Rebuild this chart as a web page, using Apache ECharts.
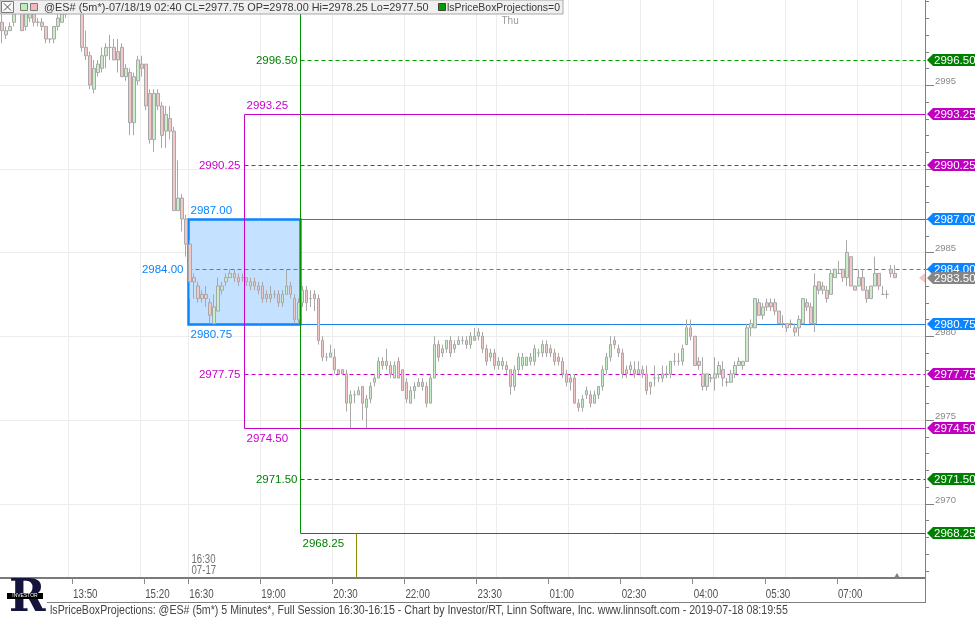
<!DOCTYPE html>
<html><head><meta charset="utf-8">
<script src="https://cdn.jsdelivr.net/npm/echarts/dist/echarts.min.js"></script>
<style>html,body{margin:0;padding:0;background:#fff}#c{width:975px;height:620px}</style>
</head><body><div id="c"></div>
<script>
// ---------- DATA ----------
// session segments: [first bar time, number of 5-minute bars]
const sessionSegments = [['12:20', 47], ['16:30', 6], ['18:00', 178]];
// candles: [open, close, low, high]
const ohlc = [
[2998.75,2998.25,2997.5,2999.25],[2998.0,2998.25,2997.75,2998.5],[2998.25,2998.5,2998.25,2998.75],[2998.75,2999.25,2998.5,2999.5],
[2999.5,2999.75,2999.25,3000.0],[2999.5,2998.25,2998.25,2999.75],[2998.5,2999.25,2998.25,2999.5],[2999.0,2999.25,2998.75,2999.5],
[2999.25,2998.75,2998.5,2999.5],[2998.75,2998.75,2998.5,2999.0],[2998.75,2998.5,2998.25,2999.0],[2998.5,2997.75,2997.5,2998.5],
[2997.75,2997.75,2997.5,2997.75],[2997.75,2998.5,2997.5,2998.5],[2998.5,2999.0,2998.25,2999.25],[2998.75,2999.25,2998.75,2999.5],
[2999.25,2999.5,2999.0,2999.75],[2999.5,3000.0,2999.25,3000.25],[3000.0,2999.75,2999.5,3000.25],[2999.75,2999.5,2999.25,3000.0],
[2999.5,2997.25,2997.0,2999.75],[2997.25,2996.75,2996.5,2998.25],[2996.75,2995.0,2994.75,2997.0],[2994.75,2996.0,2994.5,2996.5],
[2995.75,2996.25,2995.5,2996.5],[2996.0,2996.75,2995.75,2997.25],[2996.75,2997.25,2996.0,2997.5],[2997.25,2997.25,2996.5,2998.0],
[2997.25,2996.5,2996.5,2997.75],[2997.0,2996.5,2995.75,2997.75],[2997.25,2995.5,2995.5,2997.5],[2995.5,2996.0,2995.25,2996.25],
[2995.75,2992.75,2992.0,2996.0],[2992.75,2995.5,2992.0,2995.75],[2995.25,2996.5,2995.0,2996.75],[2996.25,2996.0,2995.5,2996.75],
[2996.25,2993.75,2993.5,2996.25],[2994.5,2991.75,2991.5,2994.75],[2991.75,2994.5,2991.0,2994.75],[2994.5,2993.75,2993.5,2994.75],
[2993.75,2992.0,2991.25,2994.0],[2992.25,2993.25,2991.25,2993.75],[2993.0,2992.25,2991.75,2993.75],[2992.25,2987.5,2987.5,2992.5],
[2987.5,2988.25,2987.5,2990.5],[2988.25,2987.0,2986.25,2988.5],[2987.0,2985.5,2984.75,2987.25],
[2985.5,2983.25,2982.25,2985.75],[2983.5,2983.25,2982.25,2983.75],[2983.0,2982.25,2982.0,2983.25],[2982.5,2982.25,2982.0,2982.75],
[2982.5,2982.25,2981.75,2983.0],[2982.0,2981.25,2980.75,2982.25],
[2980.75,2981.75,2980.75,2982.5],[2981.5,2983.0,2981.5,2983.5],[2982.75,2983.0,2982.5,2983.25],[2983.25,2983.5,2983.0,2983.75],
[2983.5,2983.75,2983.5,2984.0],[2983.75,2983.5,2983.25,2984.0],[2983.5,2983.25,2983.0,2983.75],[2983.5,2983.5,2983.25,2983.75],
[2983.5,2983.25,2983.0,2983.5],[2983.0,2983.25,2982.75,2983.5],[2983.25,2983.0,2982.75,2983.5],[2983.0,2982.75,2982.5,2983.25],
[2983.0,2982.25,2982.0,2983.25],[2982.5,2982.25,2982.0,2982.75],[2982.5,2982.25,2982.0,2983.0],[2982.5,2982.5,2982.25,2982.75],
[2982.5,2982.0,2981.75,2982.75],[2982.0,2982.5,2981.75,2982.75],[2982.5,2983.0,2982.5,2984.0],[2983.0,2982.5,2982.25,2983.25],
[2982.25,2981.0,2980.75,2982.5],[2981.0,2982.0,2980.75,2982.25],[2982.0,2982.75,2981.75,2983.0],[2982.75,2982.0,2981.5,2983.0],
[2982.25,2982.25,2981.75,2982.75],[2982.5,2982.25,2981.5,2982.75],[2982.25,2979.75,2979.5,2982.5],
[2979.75,2978.75,2978.5,2980.0],[2978.75,2978.75,2978.5,2979.0],[2978.75,2979.0,2978.75,2979.5],[2978.75,2978.0,2977.75,2979.25],
[2978.0,2977.75,2977.75,2978.0],[2978.0,2977.75,2977.75,2978.0],[2977.75,2976.0,2975.5,2978.0],[2976.0,2976.5,2974.5,2976.75],
[2976.5,2976.5,2976.0,2976.75],[2976.5,2976.75,2976.5,2977.0],[2977.0,2976.0,2975.0,2977.0],[2975.75,2976.25,2974.5,2976.5],
[2976.25,2977.0,2976.0,2977.25],[2977.25,2977.5,2977.0,2977.75],[2977.5,2978.5,2977.5,2978.75],[2978.5,2978.25,2978.0,2978.75],
[2978.25,2978.5,2978.0,2979.25],[2978.25,2977.75,2977.5,2978.5],[2977.5,2978.25,2977.5,2978.5],[2978.5,2977.5,2977.5,2978.75],
[2978.0,2976.75,2976.75,2978.0],[2977.25,2976.25,2976.0,2977.5],[2976.0,2976.75,2976.0,2977.0],[2976.75,2977.0,2976.25,2977.25],
[2977.0,2977.25,2977.0,2977.5],[2977.25,2977.0,2976.75,2977.5],[2977.0,2976.0,2975.75,2977.25],[2976.0,2977.5,2976.0,2977.75],
[2977.5,2979.5,2977.5,2980.0],[2979.5,2978.75,2978.5,2979.75],[2979.0,2979.25,2978.75,2979.5],[2979.25,2979.75,2979.0,2979.75],
[2979.75,2979.0,2978.75,2980.0],[2979.25,2979.5,2979.0,2979.75],[2979.5,2979.75,2979.5,2980.0],[2979.75,2979.75,2979.5,2980.0],
[2979.75,2979.5,2979.25,2980.0],[2979.5,2980.0,2979.25,2980.25],[2980.0,2979.75,2979.75,2980.5],[2980.0,2980.25,2979.75,2980.5],
[2980.0,2979.25,2979.0,2980.25],[2979.25,2978.5,2978.25,2979.5],[2978.75,2979.0,2978.5,2979.25],[2979.0,2978.25,2978.0,2979.25],
[2978.25,2978.5,2978.0,2978.75],[2978.25,2978.5,2978.0,2978.75],[2978.25,2978.0,2977.75,2978.5],[2978.0,2977.0,2976.5,2978.0],
[2977.0,2978.0,2976.75,2978.25],[2978.0,2978.75,2977.75,2979.0],[2978.25,2978.75,2978.0,2979.0],[2978.25,2978.75,2978.25,2978.75],
[2978.5,2978.75,2978.25,2979.0],[2978.5,2979.25,2978.25,2979.5],[2979.0,2979.0,2978.75,2979.25],[2979.0,2979.5,2978.75,2979.75],
[2979.5,2979.0,2978.75,2979.75],[2979.25,2979.0,2978.75,2979.5],[2979.0,2978.5,2978.25,2979.25],[2978.75,2978.5,2978.25,2979.0],
[2978.5,2977.75,2977.5,2978.75],[2977.75,2977.25,2977.0,2978.0],[2977.5,2977.25,2976.75,2977.75],[2977.5,2976.0,2976.0,2977.75],
[2976.0,2975.75,2975.5,2976.25],[2975.75,2976.25,2975.5,2976.5],[2976.5,2976.75,2976.25,2977.0],[2976.5,2976.0,2975.75,2976.75],
[2976.0,2976.5,2976.0,2976.75],[2976.5,2977.0,2976.25,2977.0],[2977.0,2978.0,2976.75,2978.25],[2978.0,2978.75,2977.75,2979.0],
[2978.75,2979.5,2978.5,2980.0],[2979.75,2979.5,2979.25,2980.0],[2979.25,2979.0,2978.75,2979.5],[2979.0,2977.75,2977.5,2979.25],
[2978.0,2977.75,2977.5,2978.25],[2978.0,2978.25,2977.75,2978.5],[2978.0,2977.75,2977.5,2978.5],[2977.75,2978.0,2977.75,2978.5],
[2978.0,2977.75,2977.5,2978.25],[2977.75,2976.75,2976.5,2978.25],[2977.0,2977.25,2976.5,2977.25],[2977.5,2977.5,2977.0,2978.25],
[2977.5,2977.5,2977.25,2977.75],[2977.5,2977.75,2977.25,2978.25],[2977.75,2977.75,2977.5,2978.25],[2977.75,2978.5,2977.5,2978.5],
[2978.5,2978.5,2978.25,2979.0],[2978.5,2978.5,2978.25,2979.0],[2978.5,2979.25,2978.25,2979.5],[2979.5,2980.5,2979.5,2981.0],
[2980.5,2980.0,2979.75,2981.0],[2980.0,2978.25,2978.25,2980.0],[2978.5,2978.25,2978.0,2978.75],[2977.75,2977.0,2976.75,2978.75],
[2977.0,2977.75,2976.75,2977.75],[2977.5,2977.5,2977.25,2977.75],[2977.5,2977.75,2976.75,2978.75],[2977.75,2978.25,2977.5,2978.5],
[2978.0,2977.5,2977.0,2978.5],[2977.25,2977.25,2977.0,2977.5],[2977.25,2977.75,2977.25,2978.0],[2977.75,2978.25,2977.5,2978.5],
[2978.25,2978.5,2978.25,2978.75],[2978.25,2978.5,2978.0,2978.5],[2978.5,2980.5,2978.5,2980.75],[2980.5,2980.75,2980.0,2981.0],
[2980.5,2982.25,2980.5,2982.25],[2982.0,2981.25,2981.25,2982.25],[2981.25,2981.75,2981.0,2982.0],[2982.0,2981.75,2981.5,2982.25],
[2982.0,2981.75,2981.5,2982.25],[2982.0,2981.5,2981.25,2982.25],[2981.5,2980.75,2980.75,2981.5],[2980.75,2980.75,2980.5,2981.25],
[2980.75,2980.5,2980.25,2980.75],[2980.75,2980.75,2980.5,2981.0],[2980.5,2980.25,2980.0,2980.75],[2980.5,2981.0,2980.0,2981.25],
[2980.75,2982.25,2980.75,2982.25],[2982.0,2981.75,2981.5,2982.25],[2981.75,2980.75,2980.75,2982.0],[2980.75,2983.0,2980.25,2983.75],
[2983.25,2982.75,2982.5,2983.25],[2982.75,2983.0,2982.5,2983.25],[2982.75,2982.25,2982.0,2983.0],[2982.5,2983.75,2982.5,2984.0],
[2983.5,2984.0,2983.5,2984.0],[2983.75,2983.75,2983.75,2984.5],[2984.0,2983.5,2983.25,2984.0],[2983.5,2985.0,2983.0,2985.75],
[2984.75,2983.0,2983.0,2984.75],[2983.0,2982.75,2982.75,2983.0],[2983.0,2983.5,2983.0,2984.0],[2983.5,2982.75,2982.75,2984.0],
[2982.75,2982.25,2982.0,2983.0],[2982.25,2983.0,2982.25,2983.0],[2983.0,2983.75,2983.0,2984.75],[2983.75,2983.0,2982.75,2983.75],
[2982.5,2982.5,2982.5,2983.0],[2982.5,2982.5,2982.25,2982.75],[2984.0,2983.75,2983.5,2984.25],[2983.75,2983.5,2983.5,2984.25]
];
const tickTimes = ['13:50','15:20','16:30','19:00','20:30','22:00','23:30','01:00','02:30','04:00','05:30','07:00'];
const gridTimes = ['13:45','15:15','16:30','19:00','20:30','22:00','23:30','23:55','01:25','02:55','04:25','05:55','07:25','08:20'];
const priceGridLevels = [2970, 2975, 2980, 2985, 2990, 2995];
const priceLabelLevels = [2970, 2975, 2980, 2985, 2990, 2995];
const yMin = 2965.56, yMax = 3000.08;
// projections
const blueBox = {start:'16:30', end:'19:50', top:2987.00, mid:2984.00, bottom:2980.75};
const magentaBox = {start:'18:40', top:2993.25, upper:2990.25, lower:2977.75, bottom:2974.50};
const greenBox = {start:'19:50', upper:2996.50, lower:2971.50, bottom:2968.25};
const oliveMarkTime = '21:00';
const dayStartTime = '23:55';
const sessionStartTime = '16:30';
const lastPrice = 2983.50;
const tagPrices = [2996.50, 2993.25, 2990.25, 2987.00, 2984.00, 2983.50, 2980.75, 2977.75, 2974.50, 2971.50, 2968.25];
const tagColors = ['#008000','#c000c0','#c000c0','#0a84ff','#0a84ff','#858585','#0a84ff','#c000c0','#c000c0','#008000','#008000'];
const headerText = '@ES# (5m*)-07/18/19 02:40 CL=2977.75 OP=2978.00 Hi=2978.25 Lo=2977.50';
const footerText = 'lsPriceBoxProjections: @ES# (5m*) 5 Minutes*, Full Session 16:30-16:15 - Chart by Investor/RT, Linn Software, Inc. www.linnsoft.com - 2019-07-18 08:19:55';

// ---------- categories ----------
const cats = [];
sessionSegments.forEach(([t, n]) => {
  let [h, m] = t.split(':').map(Number);
  for (let k = 0; k < n; k++) {
    cats.push(String(h).padStart(2,'0') + ':' + String(m).padStart(2,'0'));
    m += 5; if (m >= 60) { m -= 60; h = (h + 1) % 24; }
  }
});
const idx = t => cats.indexOf(t);

const FONT = '"Liberation Sans", Arial, sans-serif';
const BLUE = '#0a84ff', MAG = '#c800c8', GRN = '#009000';

function renderGrid(params, api) {
  const cs = params.coordSys;
  const y = Math.round(api.coord([0, api.value(1)])[1]) + 0.5;
  return {type:'line', shape:{x1:cs.x, y1:y, x2:cs.x + cs.width, y2:y}, style:{stroke:'#ececec', lineWidth:1}};
}

function renderInd(params, api) {
  const cs = params.coordSys;
  const R = cs.x + cs.width, T = cs.y, B = cs.y + cs.height;
  const bw = api.size([1, 0])[0];
  const X = t => Math.round(api.coord([idx(t), yMin])[0] - bw / 2) + 0.5;
  const Y = p => Math.round(api.coord([0, p])[1]) + 0.5;
  const ch = [];
  const line = (x1, y1, x2, y2, c, w, dash) => ch.push({type:'line', shape:{x1, y1, x2, y2}, style:{stroke:c, lineWidth:w, lineDash:dash || null}});
  const text = (x, y, s, c, align) => ch.push({type:'text', x, y, style:{text:s, fill:c, fontSize:11.5, fontFamily:FONT, align, verticalAlign:'middle'}});
  const D = [4, 3];
  // blue box
  const bx0 = X(blueBox.start), bx1 = X(blueBox.end);
  ch.push({type:'rect', shape:{x:bx0, y:Y(blueBox.top), width:bx1 - bx0, height:Y(blueBox.bottom) - Y(blueBox.top)},
    style:{fill:'#c4e1ff', stroke:BLUE, lineWidth:2.5}});
  line(bx1, Y(blueBox.top), R, Y(blueBox.top), '#1a7fe0', 1);
  line(bx1, Y(blueBox.bottom), R, Y(blueBox.bottom), '#1a7fe0', 1);
  line(bx0, Y(blueBox.mid), R, Y(blueBox.mid), '#1a8cff', 1, D);
  text(bx0 + 2, Y(blueBox.top) - 9, blueBox.top.toFixed(2), BLUE, 'left');
  text(bx0 + 2, Y(blueBox.bottom) + 10, blueBox.bottom.toFixed(2), BLUE, 'left');
  text(bx0 - 5, Y(blueBox.mid), blueBox.mid.toFixed(2), BLUE, 'right');
  // magenta box
  const mx = X(magentaBox.start);
  line(mx, Y(magentaBox.top), mx, Y(magentaBox.bottom), MAG, 1);
  line(mx, Y(magentaBox.top), R, Y(magentaBox.top), MAG, 1);
  line(mx, Y(magentaBox.bottom), R, Y(magentaBox.bottom), MAG, 1);
  line(mx, Y(magentaBox.upper), R, Y(magentaBox.upper), MAG, 1, D);
  line(mx, Y(magentaBox.lower), R, Y(magentaBox.lower), MAG, 1, D);
  text(mx + 2, Y(magentaBox.top) - 9, magentaBox.top.toFixed(2), MAG, 'left');
  text(mx + 2, Y(magentaBox.bottom) + 10, magentaBox.bottom.toFixed(2), MAG, 'left');
  text(mx - 4, Y(magentaBox.upper), magentaBox.upper.toFixed(2), MAG, 'right');
  text(mx - 4, Y(magentaBox.lower), magentaBox.lower.toFixed(2), MAG, 'right');
  // green box
  const gx = X(greenBox.start);
  line(gx, T, gx, Y(greenBox.bottom), GRN, 1);
  line(gx, Y(greenBox.upper), R, Y(greenBox.upper), '#00a000', 1, D);
  line(gx, Y(greenBox.lower), R, Y(greenBox.lower), '#007800', 1, D);
  line(gx, Y(greenBox.bottom), R, Y(greenBox.bottom), GRN, 1);
  text(gx - 3, Y(greenBox.upper), greenBox.upper.toFixed(2), '#008000', 'right');
  text(gx - 3, Y(greenBox.lower), greenBox.lower.toFixed(2), '#008000', 'right');
  text(gx + 2, Y(greenBox.bottom) + 10, greenBox.bottom.toFixed(2), '#008000', 'left');
  // olive marker
  const ox = X(oliveMarkTime);
  line(ox, Y(greenBox.bottom), ox, B, '#8c8c00', 1);
  // day & session labels
  const dx = X(dayStartTime);
  ch.push({type:'text', x:dx + 4, y:T + 21, style:{text:'Thu', fill:'#9a9a9a', fontSize:10, fontFamily:FONT, align:'left', verticalAlign:'middle'}});
  const sx = X(sessionStartTime);
  ch.push({type:'text', x:sx + 3, y:B - 2, scaleX:0.8, style:{text:'16:30\n07-17', fill:'#707070', fontSize:12, lineHeight:11, fontFamily:FONT, align:'left', verticalAlign:'bottom'}});
  // last bar marker on time axis
  const lx = api.coord([ohlc.length - 1, yMin])[0] + bw / 2;
  ch.push({type:'polygon', shape:{points:[[lx - 3, B], [lx + 3, B], [lx, B - 5]]}, style:{fill:'#808080'}});
  return {type:'group', children:ch};
}

function renderXLabel(params, api) {
  const cs = params.coordSys;
  const x = api.coord([api.value(0), yMin])[0];
  return {type:'text', x:x - 1, y:cs.y + cs.height + 17, scaleX:0.78,
    style:{text:cats[api.value(0)], fill:'#505050', fontSize:12.5, fontFamily:FONT, align:'left', verticalAlign:'middle'}};
}

function renderYAxis(params, api) {
  const cs = params.coordSys;
  const x0 = cs.x + cs.width;
  const v = api.value(1);
  const y = Math.round(api.coord([0, v])[1]) + 0.5;
  const major = priceLabelLevels.includes(v);
  const ch = [{type:'line', shape:{x1:x0, y1:y, x2:x0 + (major ? 9 : 4), y2:y}, style:{stroke:'#808080', lineWidth:1}}];
  if (major) ch.push({type:'text', x:x0 + 10, y:y + 1, style:{text:String(v), fill:'#8a8a8a', fontSize:9.5, fontFamily:FONT, align:'left', verticalAlign:'bottom'}});
  return {type:'group', children:ch};
}

function renderTag(params, api) {
  const cs = params.coordSys;
  const x0 = cs.x + cs.width;
  const p = api.value(1);
  const y = Math.round(api.coord([0, p])[1]);
  const c = tagColors[params.dataIndex];
  const ch = [];
  if (p === lastPrice) ch.push({type:'polygon', shape:{points:[[x0 - 6, y], [x0, y - 5], [x0, y + 5]]}, style:{fill:'#f4c6c6'}});
  ch.push({type:'polygon', shape:{points:[[x0 + 2, y], [x0 + 8, y - 6], [976, y - 6], [976, y + 6], [x0 + 8, y + 6]]}, style:{fill:c}});
  ch.push({type:'text', x:x0 + 9, y:y + 0.5, style:{text:p.toFixed(2), fill:'#fff', fontSize:11.5, fontFamily:FONT, align:'left', verticalAlign:'middle'}});
  return {type:'group', children:ch};
}

const yTickValues = [];
for (let v = Math.ceil(yMin); v <= Math.floor(yMax); v++) yTickValues.push(v);

const chart = echarts.init(document.getElementById('c'), null, {renderer:'canvas'});
chart.setOption({
  animation:false,
  backgroundColor:'#ffffff',
  grid:{left:0, right:50, top:0, bottom:42, outerBoundsMode:'none', containLabel:false},
  xAxis:{
    type:'category', data:cats, boundaryGap:true,
    axisLine:{show:true, onZero:false, lineStyle:{color:'#7a7a7a', width:2}},
    axisTick:{show:true, interval:(i, v) => tickTimes.includes(v), length:6, lineStyle:{color:'#8a8a8a'}},
    axisLabel:{show:false},
    splitLine:{show:true, interval:(i, v) => gridTimes.includes(v), lineStyle:{color:'#ececec', width:1}}
  },
  yAxis:{
    type:'value', position:'right', min:yMin, max:yMax, scale:true,
    axisLine:{show:true, lineStyle:{color:'#808080', width:1}},
    axisTick:{show:false}, axisLabel:{show:false}, splitLine:{show:false}
  },
  series:[
    {type:'custom', z:0, silent:true, data:priceGridLevels.map(v => [0, v]), renderItem:renderGrid},
    {type:'custom', z:1, silent:true, data:[[0, yMin]], renderItem:renderInd},
    {type:'candlestick', z:3, data:ohlc.map(d => [d[0], d[1], d[2], d[3]]), barWidth:3,
      itemStyle:{color:'#c8efc8', color0:'#f5c8c8', borderColor:'#a8a8a8', borderColor0:'#a8a8a8', borderWidth:1}},
    {type:'custom', z:5, silent:true, data:tickTimes.map(t => [idx(t), yMin]), renderItem:renderXLabel},
    {type:'custom', z:5, silent:true, data:yTickValues.map(v => [0, v]), renderItem:renderYAxis},
    {type:'custom', z:6, silent:true, data:tagPrices.map(v => [0, v]), renderItem:renderTag}
  ],
  graphic:[
    {type:'rect', z:100, shape:{x:0, y:0, width:563, height:14}, style:{fill:'#f0f0f0', stroke:'#a8a8a8', lineWidth:1}},
    {type:'rect', z:101, shape:{x:1.5, y:1.5, width:12, height:11}, style:{fill:'#f8f8f8', stroke:'#7a7a7a', lineWidth:1}},
    {type:'line', z:102, shape:{x1:4, y1:3.5, x2:11, y2:10.5}, style:{stroke:'#555', lineWidth:1}},
    {type:'line', z:102, shape:{x1:11, y1:3.5, x2:4, y2:10.5}, style:{stroke:'#555', lineWidth:1}},
    {type:'rect', z:101, shape:{x:20.5, y:3.5, width:7, height:7}, style:{fill:'#b8f0b8', stroke:'#7a7a7a', lineWidth:1}},
    {type:'rect', z:101, shape:{x:30.5, y:3.5, width:7, height:7}, style:{fill:'#f5b8b8', stroke:'#7a7a7a', lineWidth:1}},
    {type:'text', z:101, x:44, y:7.5, scaleX:0.99, style:{text:headerText, fill:'#3a3a3a', fontSize:11, fontFamily:FONT, verticalAlign:'middle'}},
    {type:'rect', z:101, shape:{x:438.5, y:3.5, width:7, height:7}, style:{fill:'#00a000', stroke:'#404040', lineWidth:1}},
    {type:'text', z:101, x:447, y:7.5, scaleX:0.95, style:{text:'lsPriceBoxProjections=0', fill:'#3a3a3a', fontSize:11, fontFamily:FONT, verticalAlign:'middle'}},
    // bottom frame
    {type:'line', z:50, shape:{x1:47, y1:602.5, x2:926, y2:602.5}, style:{stroke:'#808080', lineWidth:1}},
    {type:'line', z:50, shape:{x1:925.5, y1:578, x2:925.5, y2:603}, style:{stroke:'#808080', lineWidth:1}},
    {type:'text', z:50, x:50, y:611, scaleX:0.885, style:{text:footerText, fill:'#444', fontSize:12, fontFamily:FONT, verticalAlign:'middle'}},
    // logo
    {type:'text', z:50, x:9, y:578, style:{text:'R', fill:'#14143c', fontSize:44, fontWeight:'bold', fontFamily:'"DejaVu Serif", serif', verticalAlign:'top'}},
    {type:'rect', z:51, shape:{x:7, y:593, width:36, height:6}, style:{fill:'#000'}},
    {type:'text', z:52, x:25, y:596, style:{text:'INVESTOR', fill:'#fff', fontSize:5, fontFamily:FONT, align:'center', verticalAlign:'middle'}}
  ]
});
</script>
</body></html>
